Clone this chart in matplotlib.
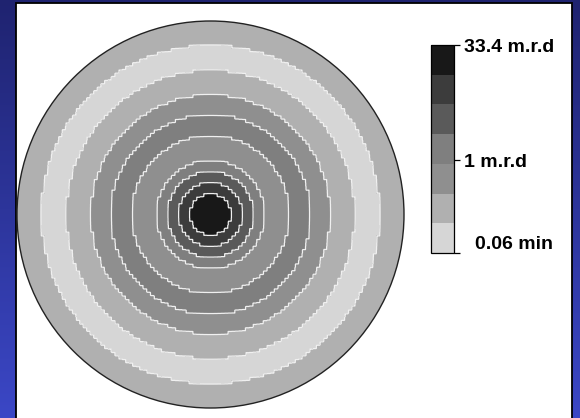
import numpy as np
import matplotlib
matplotlib.use("Agg")
import matplotlib.pyplot as plt
from matplotlib.colors import LogNorm, ListedColormap, LinearSegmentedColormap
from matplotlib.patches import Circle, Rectangle

plt.rcParams['font.family'] = ['Liberation Sans', 'DejaVu Sans']

# radial intensity profile of the pole figure (r = 0 centre, r = 1 rim), in m.r.d
radius_frac = [0.0, 0.05, 0.105, 0.167, 0.224, 0.28, 0.34, 0.41, 0.47, 0.52,
               0.56, 0.62, 0.66, 0.75, 0.82, 0.88, 0.95, 1.0]
mrd = [33.4, 25.0, 13.6, 5.5, 2.23, 0.9, 0.7, 0.9, 1.15, 0.9,
       0.6, 0.37, 0.3, 0.148, 0.1, 0.148, 0.19, 0.2]

mrd_min = 0.06
mrd_max = 33.4
n_bands = 7
band_colors = ['#d6d6d6', '#b0b0b0', '#8f8f8f', '#7f7f7f', '#5a5a5a', '#3c3c3c', '#181818']
tick_values = [0.06, 1, 33.4]
tick_labels = ['', '1 m.r.d', '33.4 m.r.d']
min_label = '0.06 min'

W, H = 580, 418
fig = plt.figure(figsize=(W / 100, H / 100), dpi=100)

# blue gradient backdrop with the white panel on top
bg = fig.add_axes([0, 0, 1, 1])
bg.set_axis_off()
grad = np.linspace(0, 1, 256).reshape(-1, 1)
blue = LinearSegmentedColormap.from_list('blue', ['#1f2370', '#3b47c6'])
bg.imshow(grad, cmap=blue, aspect='auto', extent=[0, 1, 0, 1], origin='upper')
bg.add_patch(Rectangle((16 / W, -0.01), (572 - 16) / W, (415 / H) + 0.01,
                       facecolor='white', edgecolor='black', lw=1.3))
bg.set_xlim(0, 1)
bg.set_ylim(0, 1)

# pole figure: coarse grid, blown up with nearest sampling for the stepped contours
cx, cy, R = 210.5, 214.5, 193.5
ax = fig.add_axes([(cx - R) / W, (H - cy - R) / H, 2 * R / W, 2 * R / H])
ax.set_axis_off()
n = 112
g = np.linspace(-1.02, 1.02, n)
gx, gy = np.meshgrid(g, g)
r = np.hypot(gx, gy)
field = np.exp(np.interp(r, radius_frac, np.log(mrd)))
up = 4
field = np.kron(field, np.ones((up, up)))
fine = np.linspace(-1.02, 1.02, n * up)
fx, fy = np.meshgrid(fine, fine)

levels = np.geomspace(mrd_min, mrd_max, n_bands + 1)
levels[-1] = mrd_max
cmap = ListedColormap(band_colors)
norm = LogNorm(vmin=mrd_min, vmax=mrd_max)
cs = ax.contourf(fx, fy, field, levels=levels, cmap=cmap, norm=norm)
cl = ax.contour(fx, fy, field, levels=levels[1:-1], colors='#f0f0f0', linewidths=0.9)
rim = Circle((0, 0), 1.0, transform=ax.transData)
cs.set_clip_path(rim)
cl.set_clip_path(rim)
ax.add_patch(Circle((0, 0), 1.0, fill=False, edgecolor='#222222', lw=1.0, clip_on=False))
ax.set_xlim(-1, 1)
ax.set_ylim(-1, 1)
ax.set_aspect('equal')

# colour scale
cax = fig.add_axes([431 / W, (H - 253) / H, 23 / W, 208 / H])
cb = fig.colorbar(cs, cax=cax)
cb.outline.set_linewidth(0.9)
cax.minorticks_off()
cax.set_yticks(tick_values)
cax.set_yticklabels(tick_labels, fontsize=14, fontweight='bold')
cax.tick_params(axis='y', length=4, width=0.9, pad=3)
cax.text(1.9, 0.04, min_label, transform=cax.transAxes, fontsize=14,
         fontweight='bold', ha='left', va='center')

fig.savefig('out.png', dpi=100)
